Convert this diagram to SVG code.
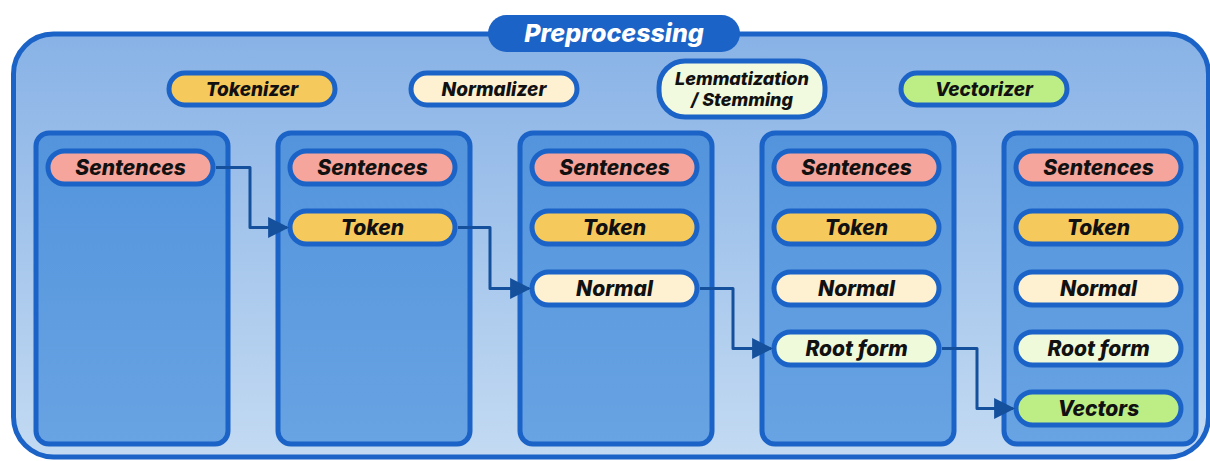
<svg xmlns="http://www.w3.org/2000/svg" width="1210" height="461" viewBox="0 0 1210 461">
<defs>
<linearGradient id="gOuter" x1="0" y1="0" x2="0" y2="1"><stop offset="0" stop-color="#88b2e6"/><stop offset="1" stop-color="#c3daf2"/></linearGradient>
<linearGradient id="gCol" x1="0" y1="0" x2="0" y2="1"><stop offset="0" stop-color="#5394dc"/><stop offset="1" stop-color="#68a3e3"/></linearGradient>
<marker id="arr" viewBox="0 0 10 10" refX="9" refY="5" markerWidth="7" markerHeight="7" markerUnits="strokeWidth" orient="auto"><path d="M0,0 L10,5 L0,10 z" fill="#14509c"/></marker>
<style>
.outer{fill:url(#gOuter);stroke:#1b63c6;stroke-width:5}
.col{fill:url(#gCol);stroke:#1b63c6;stroke-width:5}
.pill{stroke:#1b63c6;stroke-width:5}
.t{font-family:Inter,Roboto,"Liberation Sans",sans-serif;font-weight:800;font-style:italic;font-size:21px;fill:#111;text-anchor:middle;dominant-baseline:central}
.s{font-size:19px}
.title{font-family:Inter,Roboto,"Liberation Sans",sans-serif;font-weight:800;font-style:italic;font-size:25px;fill:#fff;text-anchor:middle;dominant-baseline:central}
.sent{fill:#f5a59b}.tok{fill:#f6c95c}.norm{fill:#fdf1d2}.root{fill:#effadb}.vec{fill:#bdee86}.lem{fill:#f1f9de}
.conn{fill:none;stroke:#14509c;stroke-width:3;stroke-linejoin:round}
</style>
</defs>
<g id="container">
<rect class="outer" x="13.5" y="34" width="1195" height="423" rx="40"/>
</g>
<g id="title">
<rect x="488" y="15" width="252" height="37" rx="18.5" fill="#1b63c6"/>
<text class="title" x="614" y="33">Preprocessing</text>
</g>
<g id="tokenizer"><rect class="pill tok" x="169" y="73" width="166" height="32" rx="16"/><text class="t s" x="252" y="89">Tokenizer</text></g>
<g id="normalizer"><rect class="pill norm" x="411" y="73" width="166" height="32" rx="16"/><text class="t s" x="494" y="89">Normalizer</text></g>
<g id="lemmatizer"><rect class="pill lem" x="659" y="61" width="166" height="56" rx="26"/><text class="t" x="742" y="78" style="font-size:18px">Lemmatization</text><text class="t" x="742" y="99" style="font-size:18px">/ Stemming</text></g>
<g id="vectorizer"><rect class="pill vec" x="901" y="73" width="166" height="32" rx="16"/><text class="t s" x="984" y="89">Vectorizer</text></g>

<g id="col1">
<rect class="col" x="36" y="133" width="192" height="311" rx="13"/>
<rect class="pill sent" x="48" y="151" width="165" height="33" rx="16.5"/><text class="t" x="130.5" y="167.5">Sentences</text>
</g>
<g id="col2">
<rect class="col" x="278" y="133" width="192" height="311" rx="13"/>
<rect class="pill sent" x="290" y="151" width="165" height="33" rx="16.5"/><text class="t" x="372.5" y="167.5">Sentences</text>
<rect class="pill tok" x="290" y="211" width="165" height="33" rx="16.5"/><text class="t" x="372.5" y="227.5">Token</text>
</g>
<g id="col3">
<rect class="col" x="520" y="133" width="192" height="311" rx="13"/>
<rect class="pill sent" x="532" y="151" width="165" height="33" rx="16.5"/><text class="t" x="614.5" y="167.5">Sentences</text>
<rect class="pill tok" x="532" y="211" width="165" height="33" rx="16.5"/><text class="t" x="614.5" y="227.5">Token</text>
<rect class="pill norm" x="532" y="272" width="165" height="33" rx="16.5"/><text class="t" x="614.5" y="288.5">Normal</text>
</g>
<g id="col4">
<rect class="col" x="762" y="133" width="192" height="311" rx="13"/>
<rect class="pill sent" x="774" y="151" width="165" height="33" rx="16.5"/><text class="t" x="856.5" y="167.5">Sentences</text>
<rect class="pill tok" x="774" y="211" width="165" height="33" rx="16.5"/><text class="t" x="856.5" y="227.5">Token</text>
<rect class="pill norm" x="774" y="272" width="165" height="33" rx="16.5"/><text class="t" x="856.5" y="288.5">Normal</text>
<rect class="pill root" x="774" y="332" width="165" height="33" rx="16.5"/><text class="t" x="856.5" y="348.5">Root form</text>
</g>
<g id="col5">
<rect class="col" x="1004" y="133" width="192" height="311" rx="13"/>
<rect class="pill sent" x="1016" y="151" width="165" height="33" rx="16.5"/><text class="t" x="1098.5" y="167.5">Sentences</text>
<rect class="pill tok" x="1016" y="211" width="165" height="33" rx="16.5"/><text class="t" x="1098.5" y="227.5">Token</text>
<rect class="pill norm" x="1016" y="272" width="165" height="33" rx="16.5"/><text class="t" x="1098.5" y="288.5">Normal</text>
<rect class="pill root" x="1016" y="332" width="165" height="33" rx="16.5"/><text class="t" x="1098.5" y="348.5">Root form</text>
<rect class="pill vec" x="1016" y="392" width="165" height="33" rx="16.5"/><text class="t" x="1098.5" y="408.5">Vectors</text>
</g>

<g id="connectors">
<path class="conn" marker-end="url(#arr)" d="M216,167.5 H250 V227.5 H287"/>
<path class="conn" marker-end="url(#arr)" d="M458,227.5 H490 V288.5 H529"/>
<path class="conn" marker-end="url(#arr)" d="M700,288.5 H733 V348.5 H771"/>
<path class="conn" marker-end="url(#arr)" d="M942,348.5 H977 V408.5 H1013"/>
</g>
</svg>
